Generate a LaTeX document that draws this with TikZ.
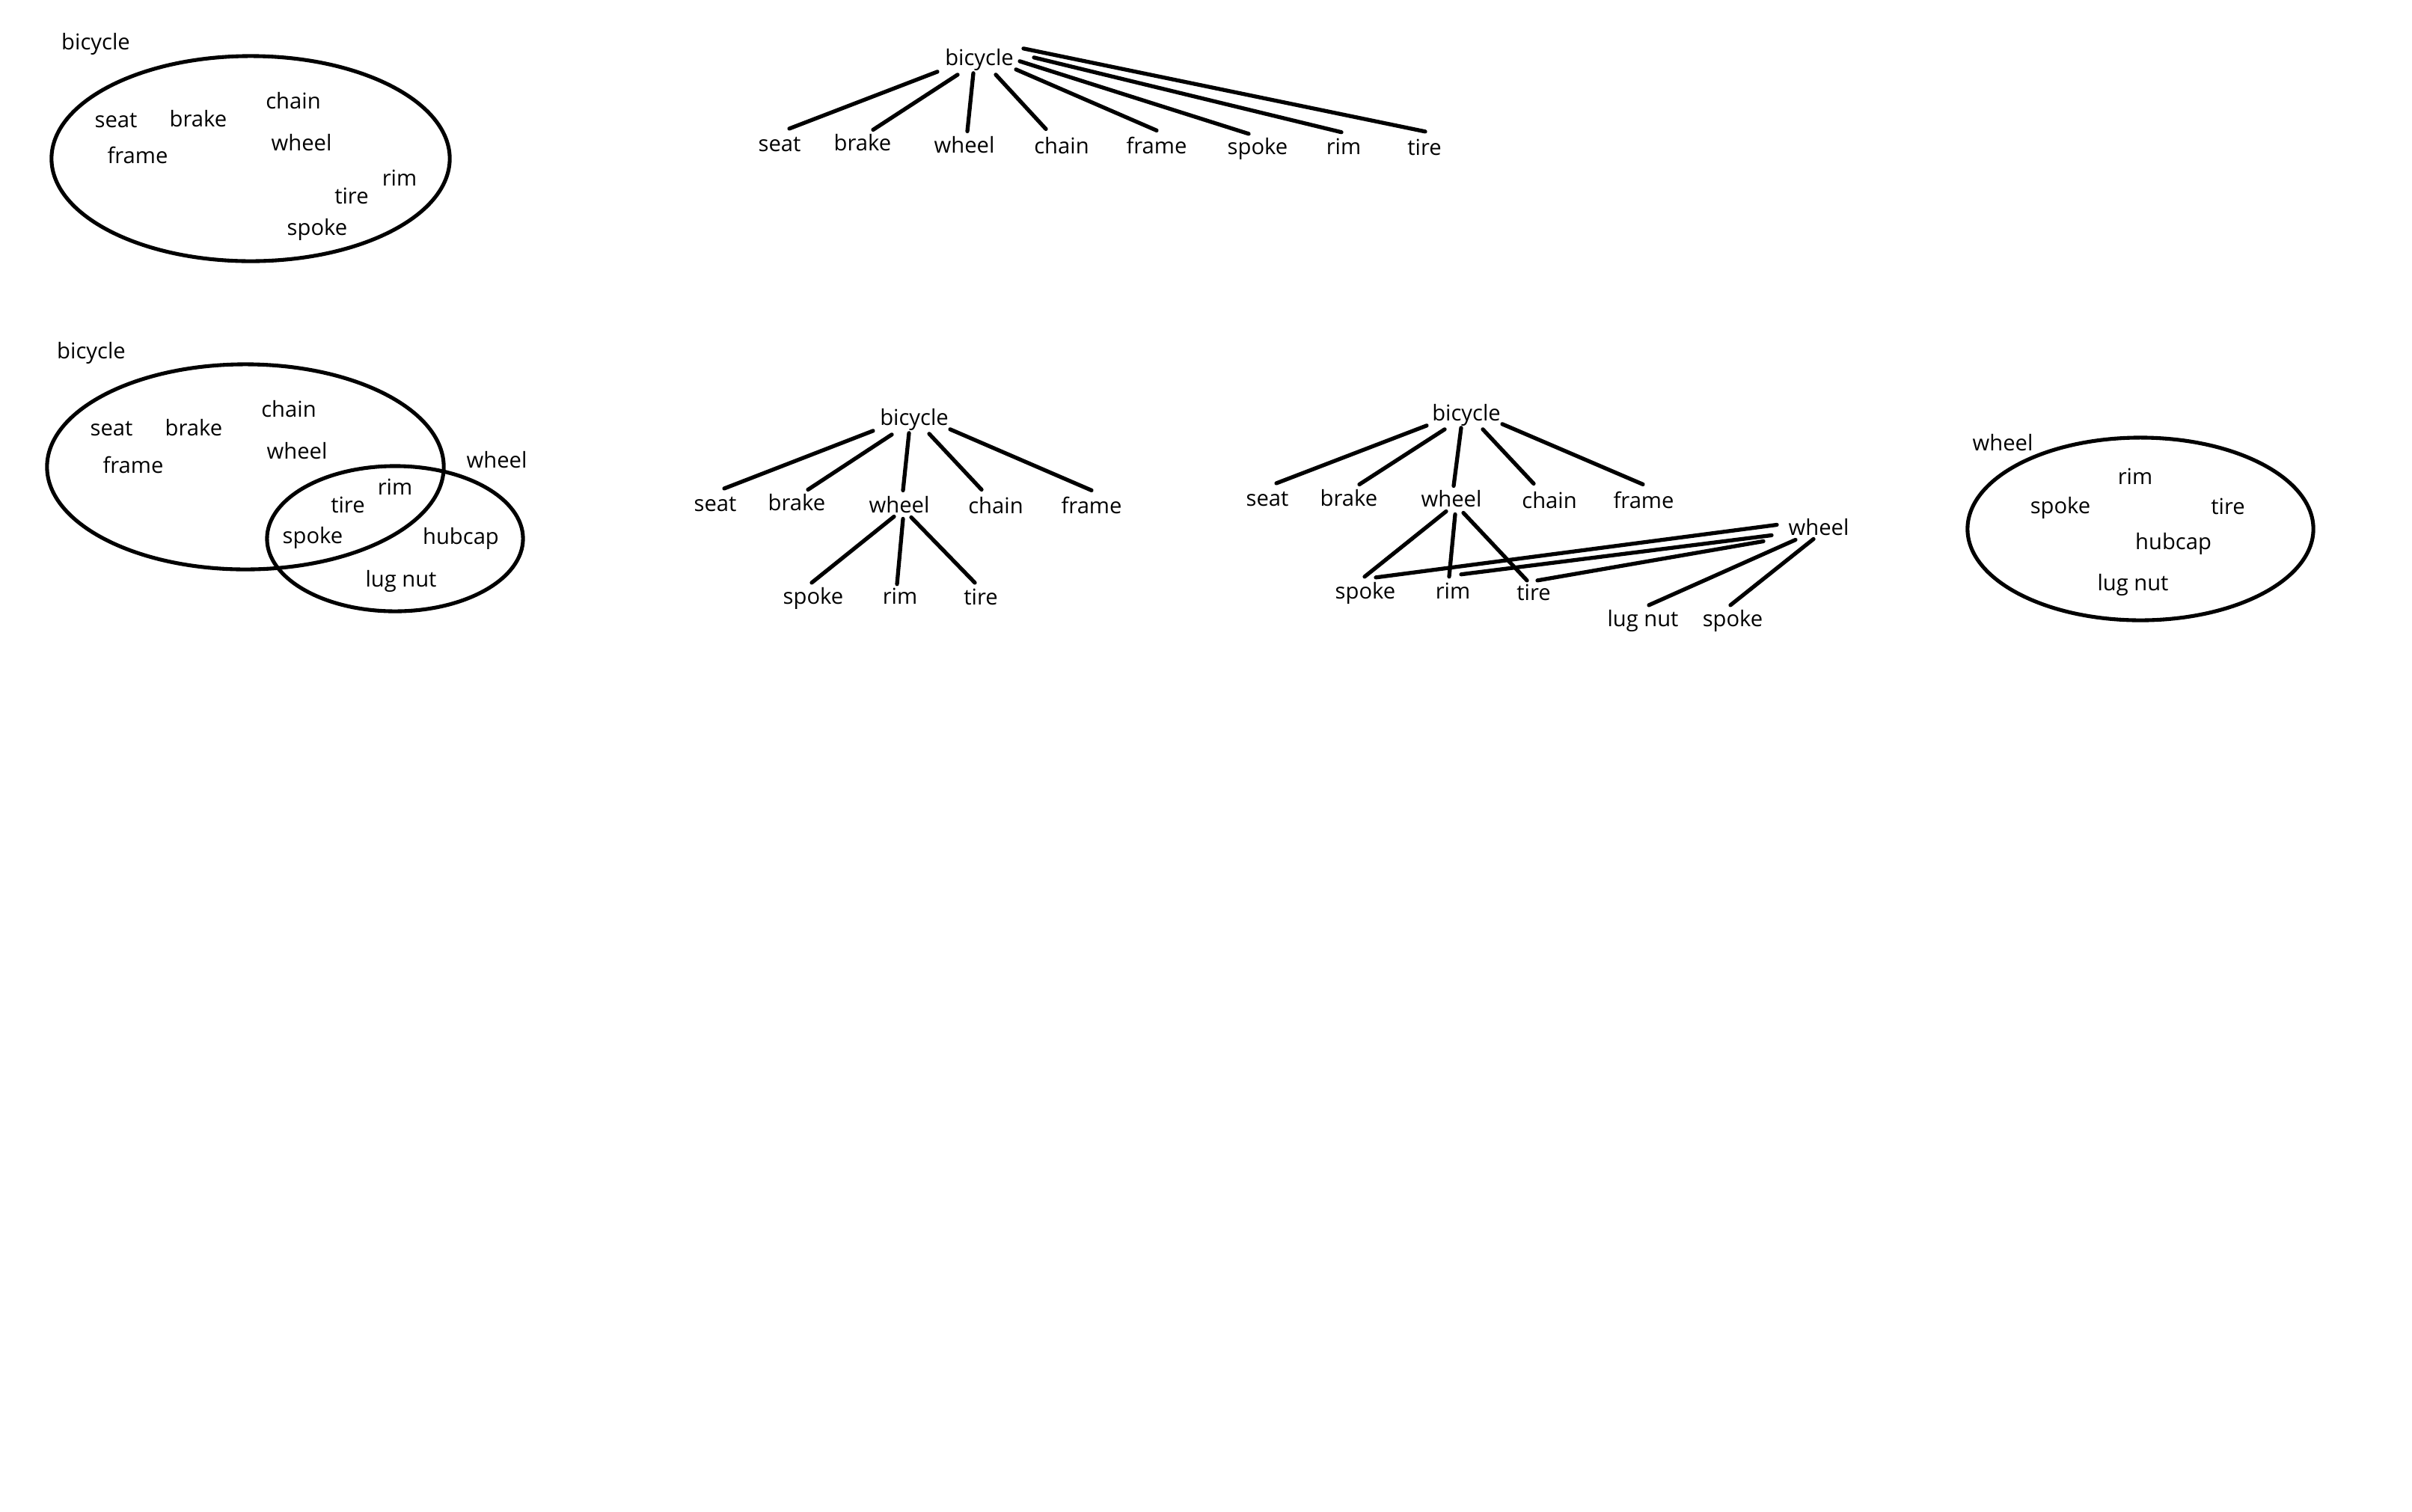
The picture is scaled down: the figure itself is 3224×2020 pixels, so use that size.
\documentclass[tikz,border=0pt]{standalone}
\usepackage{fontspec}
\setmainfont{Open Sans}
\usetikzlibrary{calc}
\begin{document}
\begin{tikzpicture}[x=0.01cm,y=-0.01cm,
  txt/.style={font=\fontsize{8.3pt}{10pt}\selectfont, anchor=mid, inner sep=0pt},
  edge/.style={line width=1.5pt, line cap=round},
  set/.style={line width=1.45pt}]
\useasboundingbox (0,0) rectangle (3224,2020);

% ---------- Panel 1: bicycle set ----------
\node[txt] (a-lab) at (128,57) {bicycle};
\draw[set] (335,212) ellipse [x radius=2.66cm, y radius=1.37cm];
\node[txt] (a-seat) at (155,161) {seat};
\node[txt] (a-brake) at (265,160) {brake};
\node[txt] (a-chain) at (392,136) {chain};
\node[txt] (a-wheel) at (403,192) {wheel};
\node[txt] (a-frame) at (184,209) {frame};
\node[txt] (a-rim) at (534,239) {rim};
\node[txt] (a-tire) at (470,263) {tire};
\node[txt] (a-spoke) at (424,305) {spoke};

% ---------- Panel 2: flat tree ----------
\node[txt] (b-bic) at (1309,78) {bicycle};
\node[txt] (b-seat) at (1042,193) {seat};
\node[txt] (b-brake) at (1153,192) {brake};
\node[txt] (b-wheel) at (1289,195) {wheel};
\node[txt] (b-chain) at (1419,196) {chain};
\node[txt] (b-frame) at (1546,196) {frame};
\node[txt] (b-spoke) at (1681,197) {spoke};
\node[txt] (b-rim) at (1796,197) {rim};
\node[txt] (b-tire) at (1904,198) {tire};
\draw[edge] ($(b-bic)+(-56,16)$) -- ($(b-seat)+(13,-21)$);
\draw[edge] ($(b-bic)+(-29,20)$) -- ($(b-brake)+(14,-17)$);
\draw[edge] ($(b-bic)+(-8,18)$) -- ($(b-wheel)+(4,-18)$);
\draw[edge] ($(b-bic)+(22,20)$) -- ($(b-chain)+(-21,-22)$);
\draw[edge] ($(b-bic)+(49,13)$) -- ($(b-frame)+(0,-20)$);
\draw[edge] ($(b-bic)+(54,2)$) -- ($(b-spoke)+(-12,-20)$);
\draw[edge] ($(b-bic)+(73,-3)$) -- ($(b-rim)+(-3,-19)$);
\draw[edge] ($(b-bic)+(59,-15)$) -- ($(b-tire)+(1,-21)$);

% ---------- Panel 3: overlapping sets ----------
\node[txt] (c-lab) at (122,470) {bicycle};
\draw[set] (328,624) ellipse [x radius=2.65cm, y radius=1.37cm];
\draw[set] (528,720) ellipse [x radius=1.71cm, y radius=0.97cm];
\node[txt] (c-seat) at (149,573) {seat};
\node[txt] (c-brake) at (259,573) {brake};
\node[txt] (c-chain) at (386,548) {chain};
\node[txt] (c-wheel) at (397,604) {wheel};
\node[txt] (c-frame) at (178,623) {frame};
\node[txt] (c-wlab) at (664,616) {wheel};
\node[txt] (c-rim) at (528,652) {rim};
\node[txt] (c-tire) at (465,676) {tire};
\node[txt] (c-spoke) at (418,717) {spoke};
\node[txt] (c-hubcap) at (616,718) {hubcap};
\node[txt] (c-lugnut) at (536,775) {lug nut};

% ---------- Panel 4: two-level tree ----------
\node[txt] (d-bic) at (1222,559) {bicycle};
\node[txt] (d-seat) at (956,674) {seat};
\node[txt] (d-brake) at (1065,673) {brake};
\node[txt] (d-wheel) at (1202,676) {wheel};
\node[txt] (d-chain) at (1331,677) {chain};
\node[txt] (d-frame) at (1459,677) {frame};
\node[txt] (d-spoke) at (1087,798) {spoke};
\node[txt] (d-rim) at (1203,798) {rim};
\node[txt] (d-tire) at (1311,799) {tire};
\draw[edge] ($(d-bic)+(-55,15)$) -- ($(d-seat)+(12,-21)$);
\draw[edge] ($(d-bic)+(-30,20)$) -- ($(d-brake)+(15,-17)$);
\draw[edge] ($(d-bic)+(-7,18)$) -- ($(d-wheel)+(5,-19)$);
\draw[edge] ($(d-bic)+(20,19)$) -- ($(d-chain)+(-19,-21)$);
\draw[edge] ($(d-bic)+(48,13)$) -- ($(d-frame)+(0,-20)$);
\draw[edge] ($(d-wheel)+(-7,16)$) -- ($(d-spoke)+(-2,-21)$);
\draw[edge] ($(d-wheel)+(5,19)$) -- ($(d-rim)+(-4,-16)$);
\draw[edge] ($(d-wheel)+(16,17)$) -- ($(d-tire)+(-8,-19)$);

% ---------- Panel 5: tree with second wheel ----------
\node[txt] (e-bic) at (1960,553) {bicycle};
\node[txt] (e-seat) at (1694,667) {seat};
\node[txt] (e-brake) at (1803,667) {brake};
\node[txt] (e-wheel) at (1940,668) {wheel};
\node[txt] (e-chain) at (2071,670) {chain};
\node[txt] (e-frame) at (2197,670) {frame};
\node[txt] (e-wheel2) at (2431,706) {wheel};
\node[txt] (e-spoke) at (1825,791) {spoke};
\node[txt] (e-rim) at (1942,791) {rim};
\node[txt] (e-tire) at (2050,793) {tire};
\node[txt] (e-lugnut) at (2196,828) {lug nut};
\node[txt] (e-spoke2) at (2316,828) {spoke};
\draw[edge] ($(e-bic)+(-53,14)$) -- ($(e-seat)+(12,-21)$);
\draw[edge] ($(e-bic)+(-29,19)$) -- ($(e-brake)+(14,-18)$);
\draw[edge] ($(e-bic)+(-7,17)$) -- ($(e-wheel)+(3,-17)$);
\draw[edge] ($(e-bic)+(22,19)$) -- ($(e-chain)+(-21,-22)$);
\draw[edge] ($(e-bic)+(48,12)$) -- ($(e-frame)+(-1,-21)$);
\draw[edge] ($(e-wheel)+(-7,17)$) -- ($(e-spoke)+(-1,-22)$);
\draw[edge] ($(e-wheel)+(5,21)$) -- ($(e-rim)+(-5,-19)$);
\draw[edge] ($(e-wheel)+(16,19)$) -- ($(e-tire)+(-9,-16)$);
\draw[edge] ($(e-wheel2)+(-56,-3)$) -- ($(e-spoke)+(14,-21)$);
\draw[edge] ($(e-wheel2)+(-63,11)$) -- ($(e-rim)+(11,-22)$);
\draw[edge] ($(e-wheel2)+(-74,19)$) -- ($(e-tire)+(5,-16)$);
\draw[edge] ($(e-wheel2)+(-31,17)$) -- ($(e-lugnut)+(8,-21)$);
\draw[edge] ($(e-wheel2)+(-7,16)$) -- ($(e-spoke2)+(-3,-21)$);

% ---------- Panel 6: wheel set ----------
\node[txt] (f-lab) at (2677,593) {wheel};
\draw[set] (2861,707) ellipse [x radius=2.31cm, y radius=1.22cm];
\node[txt] (f-rim) at (2854,638) {rim};
\node[txt] (f-spoke) at (2754,677) {spoke};
\node[txt] (f-tire) at (2978,678) {tire};
\node[txt] (f-hubcap) at (2905,725) {hubcap};
\node[txt] (f-lugnut) at (2851,780) {lug nut};
\end{tikzpicture}
\end{document}
